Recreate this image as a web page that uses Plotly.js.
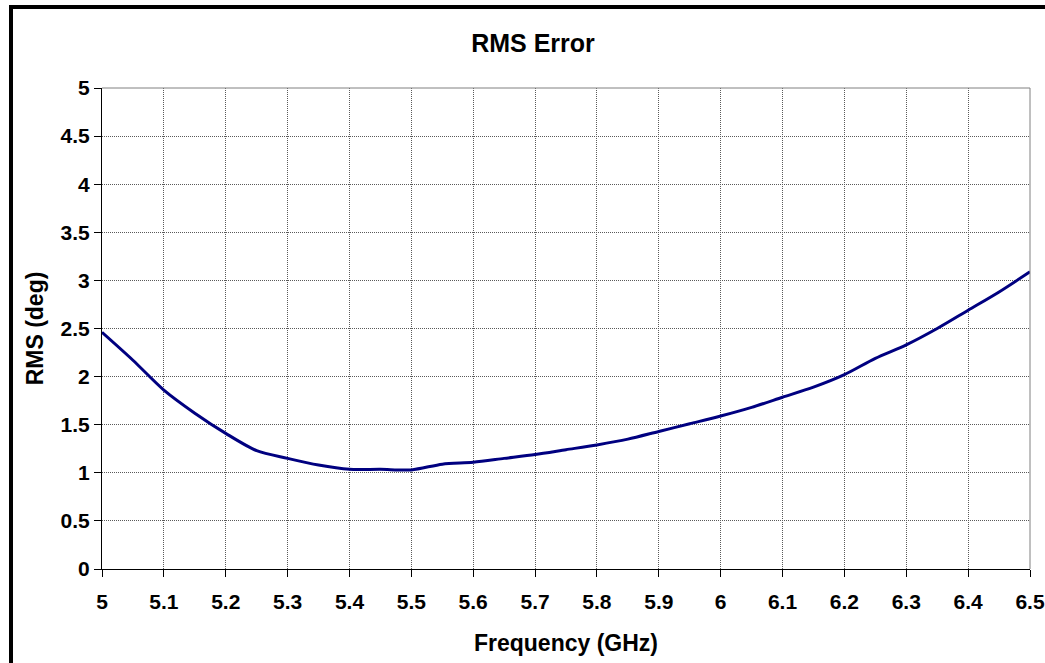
<!DOCTYPE html>
<html>
<head>
<meta charset="utf-8">
<script src="https://cdn.plot.ly/plotly-3.0.1.min.js"></script>
<style>
html, body { margin: 0; padding: 0; background: #fff; }
#chart { width: 1045px; height: 663px; }
</style>
</head>
<body>
<div id="chart"></div>
<script>
const frequencyGHz = [5.00, 5.05, 5.10, 5.15, 5.20, 5.25, 5.30, 5.35, 5.40, 5.45, 5.50, 5.55, 5.60, 5.65, 5.70, 5.75, 5.80, 5.85, 5.90, 5.95, 6.00, 6.05, 6.10, 6.15, 6.20, 6.25, 6.30, 6.35, 6.40, 6.45, 6.50];
const rmsDeg = [2.46, 2.17, 1.86, 1.62, 1.41, 1.23, 1.15, 1.08, 1.036, 1.036, 1.03, 1.09, 1.11, 1.15, 1.19, 1.24, 1.29, 1.35, 1.43, 1.51, 1.59, 1.68, 1.785, 1.89, 2.02, 2.19, 2.33, 2.50, 2.69, 2.88, 3.09];
const xTickVals = [5, 5.1, 5.2, 5.3, 5.4, 5.5, 5.6, 5.7, 5.8, 5.9, 6, 6.1, 6.2, 6.3, 6.4, 6.5];
const xTickText = ["5", "5.1", "5.2", "5.3", "5.4", "5.5", "5.6", "5.7", "5.8", "5.9", "6", "6.1", "6.2", "6.3", "6.4", "6.5"];
const yTickVals = [0, 0.5, 1, 1.5, 2, 2.5, 3, 3.5, 4, 4.5, 5];
const yTickText = ["0", "0.5", "1", "1.5", "2", "2.5", "3", "3.5", "4", "4.5", "5"];

const FONT = "Liberation Sans, Arial, Helvetica, sans-serif";

const trace = {
  x: frequencyGHz,
  y: rmsDeg,
  type: "scatter",
  mode: "lines",
  line: { color: "#000080", width: 3, shape: "spline", smoothing: 0.8 },
  hoverinfo: "x+y",
  showlegend: false
};

const gridStyle = { gridcolor: "#5a5a5a", gridwidth: 1, griddash: "1px,1px" };

const layout = {
  width: 1045,
  height: 663,
  margin: { l: 102, r: 15, t: 88, b: 94 },
  paper_bgcolor: "#ffffff",
  plot_bgcolor: "#ffffff",
  font: { family: FONT, color: "#000000" },
  title: {
    text: "RMS Error",
    font: { family: FONT, size: 25, weight: 700, color: "#000" },
    x: 533 / 1045, xanchor: "center", xref: "container",
    y: 1 - 43 / 663, yanchor: "middle", yref: "container"
  },
  xaxis: Object.assign({
    range: [5, 6.5],
    tickmode: "array",
    tickvals: xTickVals,
    ticktext: xTickText,
    ticks: "outside",
    ticklen: 7,
    tickcolor: "#000",
    tickwidth: 1,
    ticklabelstandoff: 7,
    showline: true,
    linecolor: "#000",
    linewidth: 1,
    zeroline: false,
    tickfont: { family: FONT, size: 21, weight: 700, color: "#000" },
    title: { text: "Frequency (GHz)", font: { family: FONT, size: 23, weight: 700, color: "#000" }, standoff: 22 },
    automargin: false
  }, gridStyle),
  yaxis: Object.assign({
    range: [0, 5],
    tickmode: "array",
    tickvals: yTickVals,
    ticktext: yTickText,
    ticksuffix: "\u00a0",
    ticks: "outside",
    ticklen: 7,
    tickcolor: "#000",
    tickwidth: 1,
    showline: true,
    linecolor: "#000",
    linewidth: 1,
    zeroline: false,
    tickfont: { family: FONT, size: 21, weight: 700, color: "#000" },
    title: { text: "RMS (deg)", font: { family: FONT, size: 23, weight: 700, color: "#000" }, standoff: 10 },
    automargin: false
  }, gridStyle),
  shapes: [
    { type: "line", xref: "paper", yref: "paper", x0: 0, x1: 1, y0: 1, y1: 1, line: { color: "#808080", width: 1 } },
    { type: "line", xref: "paper", yref: "paper", x0: 1, x1: 1, y0: 0, y1: 1, line: { color: "#808080", width: 1 } },
    { type: "line", xref: "paper", yref: "paper", x0: -91 / 928, x1: -91 / 928, y0: (569 - 5) / 481, y1: (569 - 680) / 481, line: { color: "#000", width: 4 } },
    { type: "line", xref: "paper", yref: "paper", x0: -93 / 928, x1: (1060 - 102) / 928, y0: (569 - 7) / 481, y1: (569 - 7) / 481, line: { color: "#000", width: 4 } }
  ]
};

Plotly.newPlot("chart", [trace], layout, { displayModeBar: false, staticPlot: true });
</script>
</body>
</html>
